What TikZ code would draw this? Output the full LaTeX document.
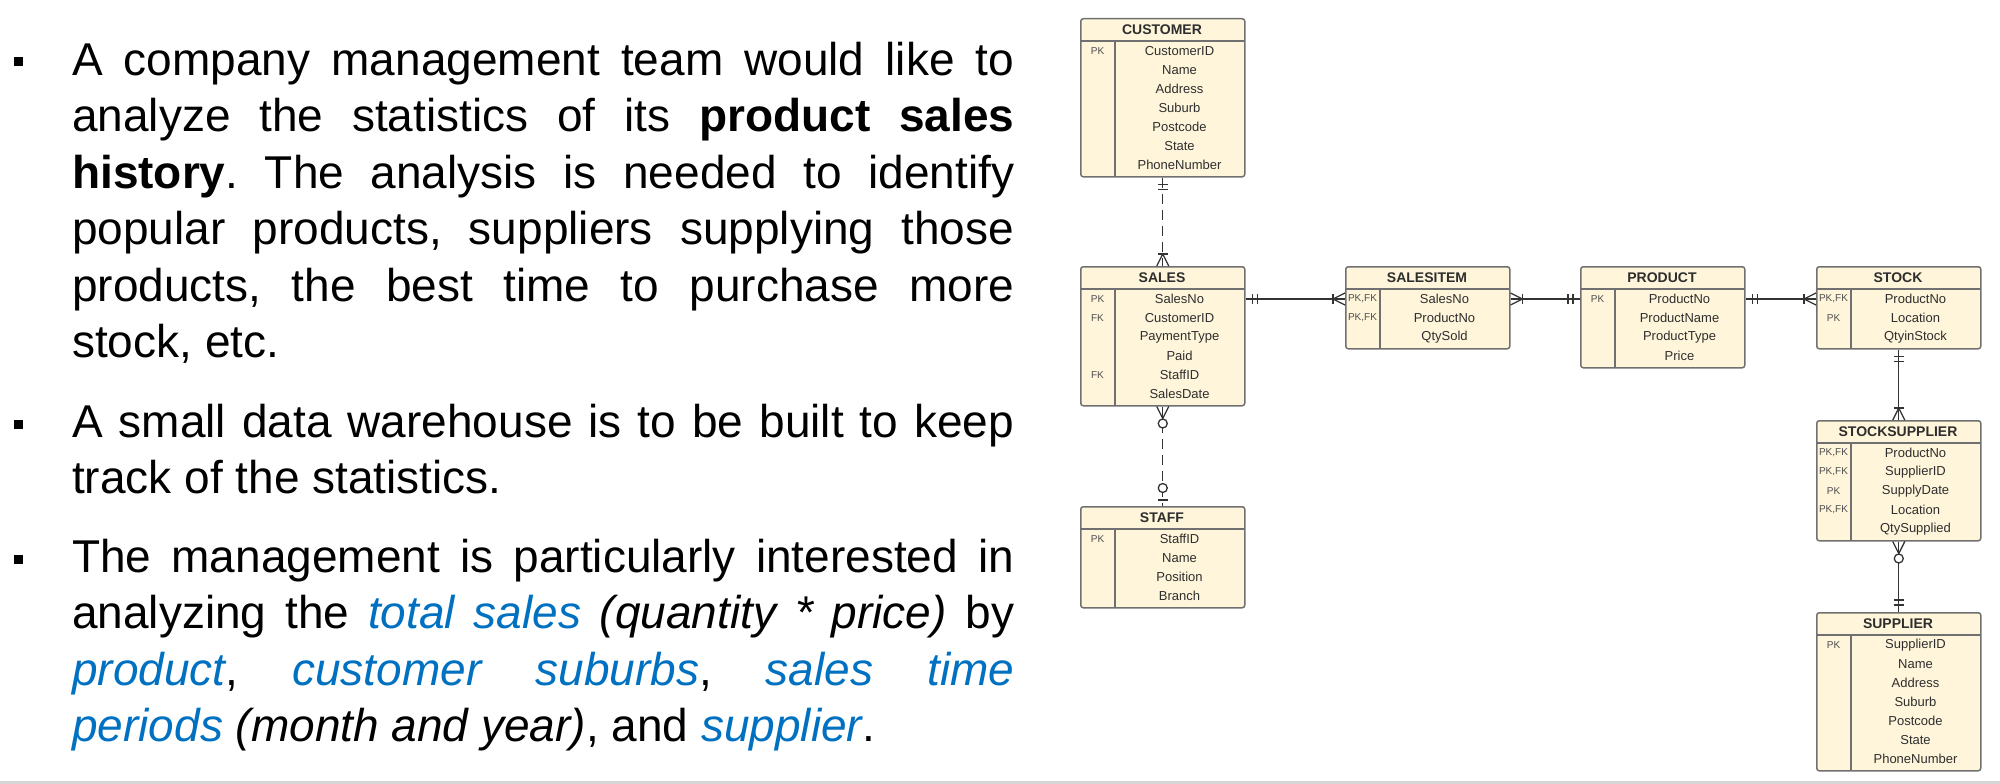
\documentclass[tikz,border=0pt]{standalone}
\usepackage{fontspec}
\setmainfont{Liberation Sans}
\usetikzlibrary{decorations.markings}

\definecolor{entfill}{HTML}{FFF5DA}
\definecolor{entdraw}{HTML}{707070}
\definecolor{enttext}{HTML}{2E2E2E}
\definecolor{linegray}{HTML}{333333}
\definecolor{hlblue}{HTML}{0070C0}
\definecolor{rulegray}{HTML}{D6D6D6}

\tikzset{
  entbox/.style={draw=entdraw,fill=entfill,line width=1.5pt,rounded corners=2.5pt,
    minimum width=164pt,anchor=north west,inner sep=0pt},
  entline/.style={draw=entdraw,line width=1.5pt},
  enttitle/.style={font=\bfseries\fontsize{14}{16}\selectfont,text=enttext,inner sep=0pt},
  entfield/.style={font=\fontsize{13}{15}\selectfont,text=enttext,inner sep=0pt},
  entkey/.style={font=\fontsize{10}{12}\selectfont,text=enttext!85,inner sep=0pt},
  erline/.style={draw=linegray,line width=1.3pt},
  erdash/.style={erline,dash pattern=on 10pt off 6pt},
  barmark/.style={postaction={decorate,decoration={markings,
    mark=at position #1 with {\draw[solid] (0pt,-5pt) -- (0pt,5pt);}}}},
  ringmark/.style={postaction={decorate,decoration={markings,
    mark=at position #1 with {\draw[solid,fill=white] (0pt,0pt) circle (4.5pt);}}}},
  crowstart/.style={postaction={decorate,decoration={markings,
    mark=at position 12pt with {\draw[solid] (-12pt,6pt) -- (0pt,0pt) -- (-12pt,-6pt);}}}},
  crowend/.style={postaction={decorate,decoration={markings,
    mark=at position -12pt with {\draw[solid] (12pt,6pt) -- (0pt,0pt) -- (12pt,-6pt);}}}},
  % cardinality ends
  onlyone start/.style={barmark=7pt,barmark=12pt},
  onlyone end/.style={barmark=-7pt,barmark=-12pt},
  onemany start/.style={crowstart,barmark=12pt},
  onemany end/.style={crowend,barmark=-12pt},
  zeromany start/.style={crowstart,ringmark=17pt},
  zeroone end/.style={barmark=-6pt,ringmark=-18pt},
  bodytext/.style={text width=942pt,align=justify,anchor=base west,inner sep=0pt,
    font=\frenchspacing\fontsize{46}{56.5}\selectfont},
  bulletsq/.style={fill=black,minimum size=9pt,inner sep=0pt},
}

\newcommand{\hlit}[1]{\textcolor{hlblue}{\itshape #1}}

% #1 name, #2 x, #3 y, #4 rows, #5 title, #6 key/attribute list
\newcommand{\erentity}[6]{%
  \node[entbox,minimum height={25+19*#4}] (#1) at (#2,#3) {};
  \node[enttitle] (#1-title) at (#2+82,#3+12) {#5};
  \draw[entline] (#2,#3+23) -- (#2+164,#3+23);
  \draw[entline] (#2+35,#3+23) -- (#2+35,#3+25+19*#4);
  \foreach \ekey/\eattr [count=\i] in {#6} {
    \node[entkey] (#1-k\i) at (#2+17.5,#3+14+19*\i) {\ekey};
    \node[entfield] (#1-f\i) at (#2+99.5,#3+14+19*\i) {\eattr};
  }
}

\begin{document}
\begin{tikzpicture}[x=1pt,y=-1pt]
\useasboundingbox (0,0) rectangle (2000,784);
\fill[rulegray] (0,781) rectangle (2000,784);

% bullet text
\node[bulletsq] (b1) at (18,62) {};
\node[bodytext] (p1) at (72,75) {A company management team would like to\linebreak
  analyze the statistics of its \textbf{product sales}\linebreak
  \textbf{history}. The analysis is needed to identify\linebreak
  popular products, suppliers supplying those\linebreak
  products, the best time to purchase more\linebreak
  stock, etc.};
\node[bulletsq] (b2) at (18,424) {};
\node[bodytext] (p2) at (72,437) {A small data warehouse is to be built to keep\linebreak
  track of the statistics.};
\node[bulletsq] (b3) at (18,559) {};
\node[bodytext] (p3) at (72,572) {The management is particularly interested in\linebreak
  analyzing the \hlit{total sales} \textit{(quantity * price)} by\linebreak
  \hlit{product}, \hlit{customer suburbs}, \hlit{sales time}\linebreak
  \hlit{periods} \textit{(month and year)}, and \hlit{supplier}.};

% entities
\erentity{customer}{1080}{18}{7}{CUSTOMER}{PK/CustomerID,{}/Name,{}/Address,{}/Suburb,{}/Postcode,{}/State,{}/PhoneNumber}
\erentity{sales}{1080}{266}{6}{SALES}{PK/SalesNo,FK/CustomerID,{}/PaymentType,{}/Paid,FK/StaffID,{}/SalesDate}
\erentity{salesitem}{1345}{266}{3}{SALESITEM}{{PK,FK}/SalesNo,{PK,FK}/ProductNo,{}/QtySold}
\erentity{product}{1580}{266}{4}{PRODUCT}{PK/ProductNo,{}/ProductName,{}/ProductType,{}/Price}
\erentity{stock}{1816}{266}{3}{STOCK}{{PK,FK}/ProductNo,PK/Location,{}/QtyinStock}
\erentity{stocksupp}{1816}{420}{5}{STOCKSUPPLIER}{{PK,FK}/ProductNo,{PK,FK}/SupplierID,PK/SupplyDate,{PK,FK}/Location,{}/QtySupplied}
\erentity{supplier}{1816}{612}{7}{SUPPLIER}{PK/SupplierID,{}/Name,{}/Address,{}/Suburb,{}/Postcode,{}/State,{}/PhoneNumber}
\erentity{staff}{1080}{506}{4}{STAFF}{PK/StaffID,{}/Name,{}/Position,{}/Branch}

% relationships
\draw[erdash,onlyone start,onemany end] (customer.south) -- (sales.north);
\draw[erdash,zeromany start,zeroone end] (sales.south) -- (staff.north);
\draw[erline,onlyone start,onemany end] ([yshift=-33pt]sales.north east) -- ([yshift=-33pt]salesitem.north west);
\draw[erline,onemany start,onlyone end] ([yshift=-33pt]salesitem.north east) -- ([yshift=-33pt]product.north west);
\draw[erline,onlyone start,onemany end] ([yshift=-33pt]product.north east) -- ([yshift=-33pt]stock.north west);
\draw[erline,onlyone start,onemany end] (stock.south) -- (stocksupp.north);
\draw[erline,zeromany start,onlyone end] (stocksupp.south) -- (supplier.north);
\end{tikzpicture}
\end{document}
